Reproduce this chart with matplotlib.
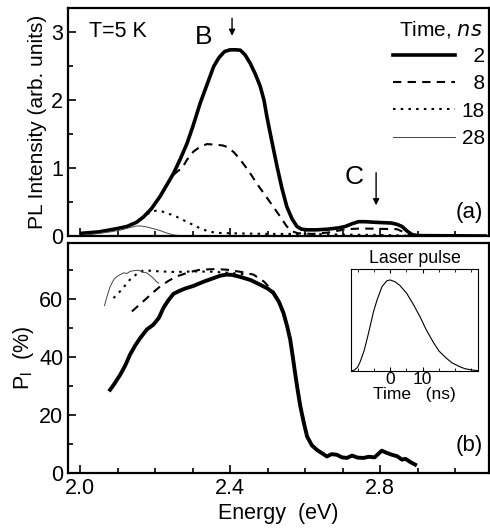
import numpy as np
import matplotlib.pyplot as plt
from matplotlib.ticker import MultipleLocator

plt.rcParams['font.family'] = ['Liberation Sans', 'DejaVu Sans']

# ---- top panel: PL spectra (energy eV, intensity arb. units)
e2 = [2.005, 2.05, 2.08, 2.1, 2.125, 2.15, 2.169, 2.19, 2.213, 2.23, 2.249, 2.267,
      2.285, 2.30, 2.32, 2.34, 2.356, 2.37, 2.385, 2.40, 2.415, 2.427, 2.44, 2.453,
      2.467, 2.48, 2.49, 2.498, 2.51, 2.525, 2.538, 2.551, 2.565, 2.578, 2.59, 2.605,
      2.63, 2.66, 2.69, 2.707, 2.725, 2.742, 2.76, 2.79, 2.83, 2.845, 2.858, 2.872,
      2.885, 2.9, 3.08]
pl2 = [0.04, 0.06, 0.09, 0.11, 0.14, 0.20, 0.28, 0.40, 0.58, 0.74, 0.92, 1.13,
       1.36, 1.60, 1.95, 2.25, 2.49, 2.62, 2.71, 2.735, 2.735, 2.73, 2.66, 2.54,
       2.38, 2.20, 2.00, 1.75, 1.42, 1.02, 0.70, 0.43, 0.25, 0.14, 0.10, 0.09,
       0.09, 0.10, 0.12, 0.14, 0.18, 0.21, 0.21, 0.20, 0.19, 0.17, 0.14, 0.07,
       0.02, 0.005, 0.0]

e8 = [2.005, 2.05, 2.08, 2.1, 2.125, 2.15, 2.169, 2.19, 2.213, 2.23, 2.249, 2.262,
      2.271, 2.285, 2.302, 2.32, 2.338, 2.364, 2.38, 2.391, 2.41, 2.427, 2.45, 2.471,
      2.493, 2.515, 2.535, 2.551, 2.565, 2.58, 2.62, 2.66, 2.69, 2.71, 2.75, 2.845,
      2.865, 2.88, 3.0]
pl8 = [0.04, 0.06, 0.09, 0.11, 0.14, 0.20, 0.28, 0.40, 0.58, 0.74, 0.90, 0.96,
       0.99, 1.12, 1.24, 1.31, 1.35, 1.34, 1.33, 1.31, 1.23, 1.12, 0.95, 0.77,
       0.60, 0.43, 0.27, 0.14, 0.07, 0.04, 0.03, 0.05, 0.08, 0.10, 0.11, 0.10,
       0.05, 0.005, 0.0]

e18 = [2.005, 2.05, 2.08, 2.1, 2.125, 2.15, 2.169, 2.187, 2.2, 2.213, 2.235, 2.258,
       2.28, 2.302, 2.325, 2.347, 2.37, 2.4, 2.5, 2.6, 2.7, 2.8, 2.9, 3.0]
pl18 = [0.04, 0.06, 0.09, 0.11, 0.14, 0.20, 0.28, 0.35, 0.37, 0.37, 0.33, 0.28,
        0.22, 0.16, 0.10, 0.06, 0.045, 0.04, 0.03, 0.03, 0.02, 0.015, 0.0, 0.0]

e28 = [2.005, 2.04, 2.08, 2.11, 2.13, 2.151, 2.165, 2.18, 2.2, 2.213, 2.23, 2.249,
       2.27, 2.3, 2.5, 2.8, 3.0]
pl28 = [0.01, 0.03, 0.06, 0.09, 0.12, 0.147, 0.145, 0.13, 0.10, 0.08, 0.045, 0.015,
        0.003, 0.0, 0.0, 0.0, 0.0]

# ---- bottom panel: polarization degree P_l (%)
p_e2 = [2.08, 2.09, 2.107, 2.12, 2.133, 2.147, 2.16, 2.178, 2.195, 2.21, 2.222, 2.235,
        2.249, 2.265, 2.28, 2.302, 2.33, 2.356, 2.373, 2.39, 2.405, 2.427, 2.455, 2.48,
        2.5, 2.515, 2.53, 2.542, 2.552, 2.56, 2.567, 2.573, 2.58, 2.587, 2.596, 2.605,
        2.618, 2.631, 2.645, 2.658, 2.67, 2.684, 2.698, 2.711, 2.725, 2.74, 2.755,
        2.77, 2.785, 2.804, 2.818, 2.831, 2.845, 2.858, 2.867, 2.88, 2.893]
p_l2 = [28.7, 30.5, 33.9, 37.0, 40.8, 44.0, 46.5, 49.5, 51.1, 53.5, 56.9, 59.5,
        61.8, 62.8, 63.6, 64.5, 66.0, 67.2, 68.0, 68.4, 68.3, 67.6, 66.5, 64.9,
        63.6, 62.1, 59.0, 55.2, 50.5, 46.0, 40.0, 34.5, 28.5, 23.0, 17.5, 12.6,
        9.5, 8.0, 6.8, 5.7, 6.5, 6.3, 5.4, 5.2, 6.0, 5.3, 5.2,
        5.6, 5.4, 7.7, 6.9, 6.3, 5.8, 4.6, 4.9, 3.8, 2.9]

p_e8 = [2.138, 2.158, 2.178, 2.195, 2.213, 2.235, 2.258, 2.29, 2.32, 2.36, 2.391,
        2.43, 2.462, 2.49, 2.515, 2.53, 2.542, 2.552, 2.56, 2.573, 2.587, 2.6]
p_l8 = [55.7, 58.0, 60.3, 62.3, 64.3, 66.2, 67.8, 69.2, 70.1, 70.3, 70.1,
        69.3, 68.4, 66.0, 62.6, 59.5, 55.6, 51.0, 46.4, 35.0, 23.5, 16.0]

p_e18 = [2.089, 2.1, 2.111, 2.122, 2.133, 2.15, 2.169, 2.19, 2.213, 2.258, 2.302,
         2.35, 2.4, 2.44]
p_l18 = [60.3, 61.8, 63.2, 65.0, 66.7, 68.5, 69.9, 69.7, 69.5, 69.3, 69.5,
         69.4, 69.0, 68.5]

p_e28 = [2.065, 2.072, 2.08, 2.087, 2.093, 2.105, 2.116, 2.125, 2.133, 2.145, 2.156,
         2.167, 2.178, 2.187, 2.195, 2.203, 2.209]
p_l28 = [57.7, 61.0, 64.3, 66.0, 67.2, 68.3, 69.0, 68.8, 69.5, 69.8, 69.9,
         69.2, 69.0, 68.0, 67.2, 66.0, 65.5]

# ---- inset: laser pulse
t_pulse = [-12, -11, -10, -9.2, -8, -7, -6, -5.1, -4, -2.5, -1, 0, 1.5, 3, 5.1, 7,
           9.2, 11, 13.2, 15, 17.3, 19, 21.4, 23, 25.4, 27]
i_pulse = [0.0, 0.01, 0.04, 0.10, 0.22, 0.36, 0.51, 0.65, 0.78, 0.925, 0.99, 1.0,
           0.98, 0.94, 0.853, 0.74, 0.596, 0.46, 0.32, 0.22, 0.14, 0.09, 0.047,
           0.025, 0.01, 0.004]

fig = plt.figure(figsize=(4.9, 5.31), dpi=100)
ax1 = fig.add_axes([0.139, 0.5556, 0.859, 0.4294])
ax2 = fig.add_axes([0.139, 0.1092, 0.859, 0.4332])

l2, = ax1.plot(e2, pl2, 'k-', lw=2.6)
l8, = ax1.plot(e8, pl8, 'k', ls=(0, (4, 3)), lw=1.5)
l18, = ax1.plot(e18, pl18, 'k', ls=(0, (1.2, 2.5)), lw=1.5)
l28, = ax1.plot(e28, pl28, color='#444444', lw=0.7)

ax1.set_xlim(1.968, 3.09)
ax1.set_ylim(0, 3.35)
ax1.set_ylabel('PL Intensity (arb. units)', fontsize=15, labelpad=3)
ax1.yaxis.set_major_locator(MultipleLocator(1))
ax1.yaxis.set_minor_locator(MultipleLocator(0.5))
ax1.xaxis.set_major_locator(MultipleLocator(0.4))
ax1.xaxis.set_minor_locator(MultipleLocator(0.1))
ax1.tick_params(labelbottom=False)

ax1.text(0.05, 3.01, 'T=5 K', transform=ax1.get_yaxis_transform(), fontsize=15.5,
         va='center', ha='left')
ax1.text(2.328, 2.93, 'B', fontsize=19, ha='center', va='center')
ax1.text(2.731, 0.86, 'C', fontsize=19, ha='center', va='center')
ax1.annotate('', xy=(2.405, 2.90), xytext=(2.405, 3.24),
             arrowprops=dict(arrowstyle='-|>', color='k', lw=1, mutation_scale=9))
ax1.annotate('', xy=(2.789, 0.41), xytext=(2.789, 0.97),
             arrowprops=dict(arrowstyle='-|>', color='k', lw=1, mutation_scale=9))
ax1.text(0.985, 0.105, '(a)', transform=ax1.transAxes, fontsize=16,
         ha='right', va='center')

ax1.text(0.986, 0.904, 'Time, $\\it{ns}$', transform=ax1.transAxes, fontsize=15,
         ha='right', va='center')
ax1.legend([l2, l8, l18, l28], ['  2', '  8', '18', '28'],
           loc='upper right', frameon=False, fontsize=15, handlelength=3.0,
           handletextpad=0.3, labelspacing=0.4,
           bbox_to_anchor=(1.01, 0.865), borderaxespad=0)

ax2.plot(p_e2, p_l2, 'k-', lw=2.8)
ax2.plot(p_e8, p_l8, 'k', ls=(0, (4, 3)), lw=1.5)
ax2.plot(p_e18, p_l18, 'k', ls=(0, (1.2, 2.5)), lw=1.5)
ax2.plot(p_e28, p_l28, color='#444444', lw=0.7)

ax2.set_xlim(1.968, 3.09)
ax2.set_ylim(0, 79.3)
ax2.yaxis.set_major_locator(MultipleLocator(20))
ax2.yaxis.set_minor_locator(MultipleLocator(10))
ax2.xaxis.set_major_locator(MultipleLocator(0.4))
ax2.xaxis.set_minor_locator(MultipleLocator(0.1))
ax2.set_xticks([2.0, 2.4, 2.8])
ax2.set_xticklabels(['2.0', '2.4', '2.8'])
ax2.set_xlabel('Energy  (eV)', fontsize=15.5, labelpad=3)
ax2.set_ylabel('P$_\\mathregular{l}$  (%)', fontsize=15.5, labelpad=2)
ax2.text(0.985, 0.12, '(b)', transform=ax2.transAxes, fontsize=16,
         ha='right', va='center')

for ax in (ax1, ax2):
    ax.tick_params(which='both', direction='in', labelsize=15.5, width=1.2)
    ax.tick_params(which='major', length=6)
    ax.tick_params(which='minor', length=3.5)
    for s in ax.spines.values():
        s.set_linewidth(1.6)

# inset
axi = fig.add_axes([351 / 490, 1 - 371 / 531, 127 / 490, 102 / 531])
axi.plot(t_pulse, i_pulse, 'k-', lw=0.8)
axi.set_xlim(-12, 27)
axi.set_ylim(0, 1.12)
axi.set_xticks([0, 10])
axi.xaxis.set_minor_locator(MultipleLocator(5))
axi.set_yticks([])
axi.tick_params(which='both', direction='in', labelsize=12.5, pad=1, top=True)
axi.tick_params(which='major', length=3)
axi.tick_params(which='minor', length=2)
axi.set_title('Laser pulse', fontsize=12.8, pad=4)
axi.set_xlabel('Time   (ns)', fontsize=12.5, labelpad=0)
for s in axi.spines.values():
    s.set_linewidth(0.8)

fig.savefig('out.png', dpi=100)
